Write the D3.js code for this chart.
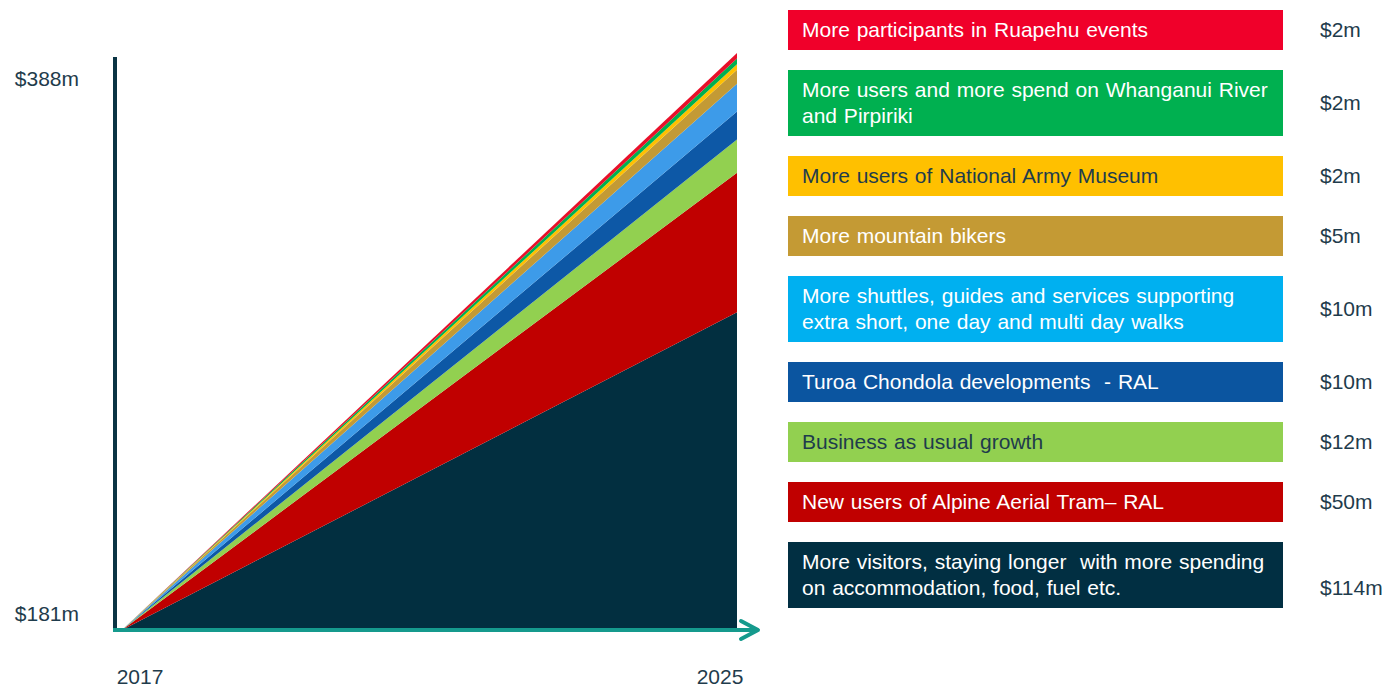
<!DOCTYPE html>
<html>
<head>
<meta charset="utf-8">
<script src="https://cdn.jsdelivr.net/npm/d3@7"></script>
<style>
  html, body { margin: 0; padding: 0; background: #ffffff; }
  svg { display: block; font-family: "Liberation Sans", Arial, sans-serif; }
</style>
</head>
<body>
<svg id="chart" width="1399" height="688"></svg>
<script>
// Growth components, listed from the bottom of the stack to the top
const categories = [
  "More visitors, staying longer  with more spending\non accommodation, food, fuel etc.",
  "New users of Alpine Aerial Tram– RAL",
  "Business as usual growth",
  "Turoa Chondola developments  - RAL",
  "More shuttles, guides and services supporting\nextra short, one day and multi day walks",
  "More mountain bikers",
  "More users of National Army Museum",
  "More users and more spend on Whanganui River\nand Pirpiriki",
  "More participants in Ruapehu events"
];
// Additional spend in 2025 per component ($m); every component starts at 0 in 2017
const growth2025 = [114, 50, 12, 10, 10, 5, 2, 2, 2];
const growth2017 = [0, 0, 0, 0, 0, 0, 0, 0, 0];
const valueLabels = ["$114m", "$50m", "$12m", "$10m", "$10m", "$5m", "$2m", "$2m", "$2m"];
const years = [2017, 2025];
const yearLabels = ["2017", "2025"];
const baseValue = 181;   // $m in 2017
const yTickValues = [181, 388];
const yTickLabels = ["$181m", "$388m"];

// Colours
const areaColors  = ["#022f40", "#c00000", "#92d050", "#0d58a6", "#3d9be9", "#c39a35", "#ffc000", "#00b050", "#e8102a"];
const boxColors   = ["#012f42", "#c00000", "#92d050", "#0b55a0", "#00b0f0", "#c49a34", "#ffc000", "#00b050", "#f0002a"];
const boxTextDark = [false, false, true, false, false, false, true, false, false];
const textColor = "#1f3c4c";

const svg = d3.select("#chart");

// Table for the stack: one row per year
const keys = categories.map((_, i) => "s" + i);
const rows = years.map((yr, j) => {
  const r = { year: yr };
  keys.forEach((k, i) => { r[k] = (j === 0 ? growth2017 : growth2025)[i]; });
  return r;
});
const stacked = d3.stack().keys(keys)(rows);

const x = d3.scaleLinear().domain(d3.extent(years)).range([122, 737]);
const total = baseValue + d3.sum(growth2025);
const y = d3.scaleLinear().domain([baseValue, total]).range([630, 53]);

const area = d3.area()
  .x(d => x(d.data.year))
  .y0(d => y(baseValue + d[0]))
  .y1(d => y(baseValue + d[1]));

svg.append("g").selectAll("path")
  .data(stacked)
  .join("path")
  .attr("d", area)
  .attr("fill", (d, i) => areaColors[i]);

// Vertical axis bar
svg.append("line")
  .attr("x1", 115).attr("x2", 115)
  .attr("y1", 57).attr("y2", 632)
  .attr("stroke", "#0a3444").attr("stroke-width", 4);

// Horizontal axis arrow
const axisTeal = "#159a8d";
svg.append("line")
  .attr("x1", 113).attr("x2", 757)
  .attr("y1", y(baseValue)).attr("y2", y(baseValue))
  .attr("stroke", axisTeal).attr("stroke-width", 4);
svg.append("path")
  .attr("d", `M741,${y(baseValue) - 9} L758,${y(baseValue)} L741,${y(baseValue) + 9}`)
  .attr("fill", "none")
  .attr("stroke", axisTeal).attr("stroke-width", 4)
  .attr("stroke-linecap", "round").attr("stroke-linejoin", "round");

// Value-axis labels
const yLabelOffset = [-9, 33];
svg.append("g").selectAll("text")
  .data(yTickValues)
  .join("text")
  .attr("x", 79)
  .attr("y", (d, i) => y(d) + yLabelOffset[i])
  .attr("text-anchor", "end")
  .attr("font-size", 21)
  .attr("fill", textColor)
  .text((d, i) => yTickLabels[i]);

// Year labels
const xLabelOffset = [18, -17];
svg.append("g").selectAll("text")
  .data(years)
  .join("text")
  .attr("x", (d, i) => x(d) + xLabelOffset[i])
  .attr("y", 684)
  .attr("text-anchor", "middle")
  .attr("font-size", 21)
  .attr("fill", textColor)
  .text((d, i) => yearLabels[i]);

// Legend boxes, top of the stack first
const order = d3.range(categories.length).reverse();
const boxX = 788, boxW = 495, lineH = 26, gap = 20;
let cursor = 10;
const legend = order.map((idx, pos) => {
  const lines = categories[idx].split("\n");
  const h = lines.length === 1 ? 40 : 66;
  const item = { idx, lines, top: cursor, h, last: pos === order.length - 1 };
  cursor += h + gap;
  return item;
});

const lg = svg.append("g").selectAll("g")
  .data(legend)
  .join("g");

lg.append("rect")
  .attr("x", boxX).attr("y", d => d.top)
  .attr("width", boxW).attr("height", d => d.h)
  .attr("fill", d => boxColors[d.idx]);

lg.each(function (d) {
  const g = d3.select(this);
  const mid = d.top + d.h / 2;
  const firstBase = mid - (d.lines.length - 1) * lineH / 2 + 7;
  g.selectAll("text.item")
    .data(d.lines)
    .join("text")
    .attr("class", "item")
    .attr("x", 802)
    .attr("y", (t, k) => firstBase + k * lineH)
    .attr("font-size", 21)
    .attr("word-spacing", 1)
    .attr("fill", boxTextDark[d.idx] ? textColor : "#ffffff")
    .style("white-space", "pre")
    .text(t => t);
  const valueY = d.last ? firstBase + (d.lines.length - 1) * lineH : mid + 7;
  g.append("text")
    .attr("x", 1320)
    .attr("y", valueY)
    .attr("font-size", 21)
    .attr("fill", textColor)
    .text(valueLabels[d.idx]);
});
</script>
</body>
</html>
